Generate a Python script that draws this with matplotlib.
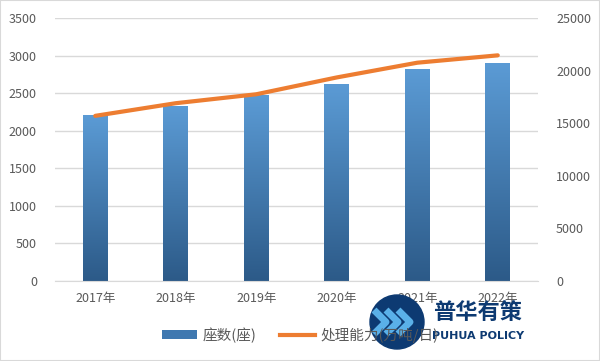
import matplotlib
matplotlib.use("Agg")
import matplotlib.pyplot as plt
import numpy as np
from matplotlib.patches import Circle, Rectangle, Patch
from matplotlib.lines import Line2D
from matplotlib.colors import LinearSegmentedColormap

plt.rcParams['font.family'] = ['Noto Sans CJK SC', 'DejaVu Sans']

categories = ['2017年', '2018年', '2019年', '2020年', '2021年', '2022年']
counts = [2200, 2320, 2470, 2610, 2820, 2890]
capacity = [15700, 16900, 17750, 19350, 20750, 21450]
left_ticks = [0, 500, 1000, 1500, 2000, 2500, 3000, 3500]
right_ticks = [0, 5000, 10000, 15000, 20000, 25000]

fig = plt.figure(figsize=(6.0, 3.61), dpi=100)
ax = fig.add_axes([55/600, 1-281/361, (538-55)/600, (281-18)/361])
ax2 = ax.twinx()

x = np.arange(len(categories))
bars = ax.bar(x, counts, width=0.31, color='#4a86c5', zorder=2)

cmap = LinearSegmentedColormap.from_list('g', ['#2c5a88', '#5b9bd5'])
grad = np.linspace(0, 1, 256).reshape(-1, 1)
for b in bars:
    x0, y0 = b.get_x(), b.get_y()
    w, h = b.get_width(), b.get_height()
    ax.imshow(grad, cmap=cmap, origin='lower', aspect='auto',
              extent=[x0, x0 + w, y0, y0 + h], zorder=2)
    b.set_visible(False)

ax2.plot(x, capacity, color='#ed7d31', lw=3, solid_capstyle='round', zorder=3)

ax.set_xlim(-0.5, len(categories) - 0.5)
ax.set_ylim(0, 3500)
ax2.set_ylim(0, 25000)
ax.set_yticks(left_ticks)
ax2.set_yticks(right_ticks)
ax.set_xticks(x)
ax.set_xticklabels(categories)
ax.grid(axis='y', color='#d9d9d9', lw=1, zorder=0)
ax.set_axisbelow(True)
for a in (ax, ax2):
    for s in a.spines.values():
        s.set_visible(False)
    a.tick_params(length=0, labelsize=9, colors='#595959')
ax.spines['bottom'].set_visible(True)
ax.spines['bottom'].set_color('#d9d9d9')
ax.tick_params(axis='y', pad=13)
ax2.tick_params(axis='y', pad=13)
ax.tick_params(axis='x', pad=8)

handles = [Patch(facecolor='#3f78b0', edgecolor='none'),
           Line2D([0], [0], color='#ed7d31', lw=3)]
leg = fig.legend(handles, ['座数(座)', '处理能力(万吨/日)'], loc='center',
                 bbox_to_anchor=(0.5, 1-335/361), ncol=2, frameon=False,
                 fontsize=10.5, handlelength=2.4, columnspacing=1.6,
                 handleheight=0.55, handletextpad=0.4)
for t in leg.get_texts():
    t.set_color('#595959')

# watermark logo
wm = fig.add_axes([0, 0, 1, 1], facecolor='none')
wm.set_xlim(0, 600); wm.set_ylim(361, 0); wm.axis('off')
wm.add_patch(Circle((397, 322), 27, color='#0d3a72', zorder=5))
for dx in (-12, 0, 12):
    wm.plot([386+dx, 398+dx, 386+dx], [310, 322, 334], color='#5ab0e8', lw=5, zorder=6,
            solid_capstyle='butt')
wm.text(433, 312, '普华有策', fontsize=16, fontweight='bold', color='#0d3a72',
        ha='left', va='center', zorder=6)
wm.text(432, 336, 'PUHUA POLICY', fontsize=8, fontweight='bold', color='#0d3a72',
        ha='left', va='center', zorder=6, family=['DejaVu Sans'])

fig.patches.append(Rectangle((0, 0), 1, 1, transform=fig.transFigure, fill=False,
                             edgecolor='#d9d9d9', lw=1.5))
fig.savefig('out.png', dpi=100)
